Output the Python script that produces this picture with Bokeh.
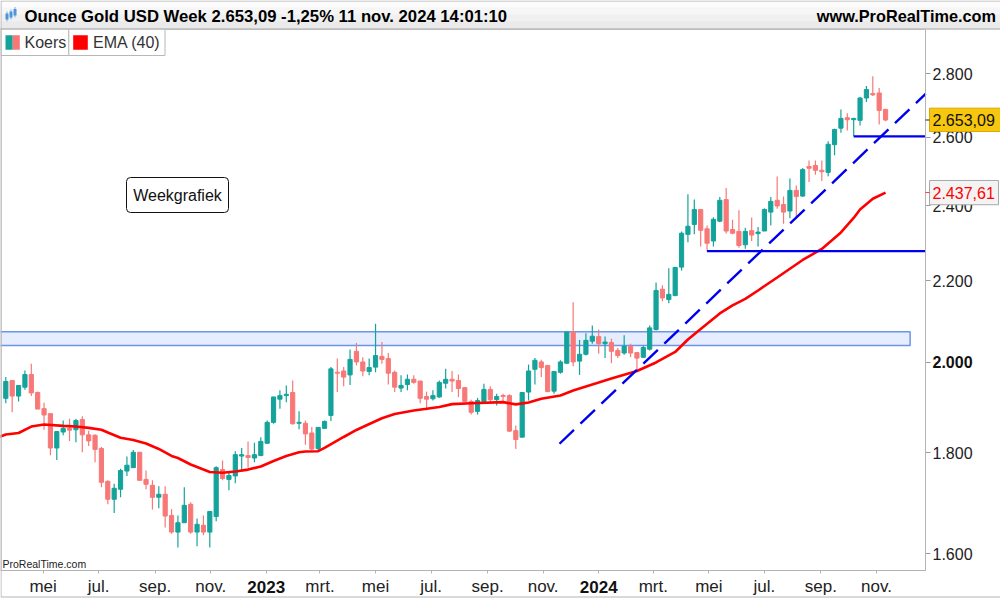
import pandas as pd
from bokeh.plotting import figure
from bokeh.models import (Range1d, FixedTicker, Label, BoxAnnotation, ColumnDataSource,
                          LogAxis, LinearAxis)
from bokeh.embed import file_html
from bokeh.resources import INLINE

# ---------------- data (weekly Ounce Gold USD) ----------------
START = pd.Timestamp("2022-03-21")   # Monday of the first weekly candle

opens = [1918, 1958, 1923, 1943, 1972, 1931, 1895, 1884, 1810, 1844,
         1852, 1849, 1871, 1838, 1837, 1809, 1741, 1705, 1725, 1762,
         1769, 1801, 1745, 1733, 1709, 1715, 1673, 1641, 1659, 1695,
         1641, 1654, 1641, 1671, 1765, 1745, 1752, 1793, 1794, 1789,
         1794, 1820, 1865, 1916, 1924, 1931, 1863, 1863, 1842, 1809,
         1852, 1880, 1977, 1980, 1971, 2026, 2001, 1979, 1989, 2014,
         2009, 1977, 1941, 1949, 1961, 1957, 1922, 1917, 1921, 1952,
         1961, 1958, 1942, 1911, 1889, 1911, 1938, 1915, 1924, 1924,
         1847, 1833, 1932, 1984, 2001, 1993, 1934, 1977, 1998, 2072,
         2003, 2019, 2050, 2061, 2044, 2047, 2028, 2022, 2038, 2023,
         2012, 2031, 2078, 2178, 2152, 2162, 2235, 2322, 2349, 2390,
         2337, 2304, 2358, 2418, 2335, 2330, 2294, 2332, 2324, 2331,
         2383, 2416, 2404, 2386, 2444, 2428, 2513, 2516, 2502, 2496,
         2578, 2628, 2660, 2654, 2652, 2722, 2736, 2738, 2686]
highs = [1966, 1958, 1947, 1981, 1997, 1933, 1908, 1884, 1846, 1869,
         1873, 1873, 1878, 1847, 1839, 1812, 1743, 1736, 1767, 1792,
         1806, 1801, 1763, 1743, 1731, 1731, 1686, 1673, 1729, 1699,
         1667, 1673, 1681, 1772, 1784, 1759, 1803, 1810, 1824, 1821,
         1833, 1869, 1921, 1936, 1947, 1958, 1889, 1869, 1855, 1854,
         1869, 1989, 2009, 1989, 2030, 2046, 2012, 2009, 2092, 2048,
         2022, 1981, 1970, 1972, 1970, 1957, 1933, 1936, 1958, 1985,
         1980, 1972, 1943, 1915, 1919, 1951, 1945, 1928, 1928, 1927,
         1858, 1932, 1995, 2010, 2006, 1993, 1979, 2005, 2072, 2145,
         2053, 2069, 2088, 2078, 2061, 2056, 2034, 2064, 2044, 2023,
         2039, 2088, 2195, 2188, 2232, 2236, 2330, 2433, 2418, 2390,
         2346, 2369, 2425, 2451, 2362, 2388, 2340, 2368, 2342, 2394,
         2425, 2484, 2427, 2478, 2458, 2509, 2531, 2531, 2531, 2588,
         2626, 2686, 2674, 2660, 2725, 2760, 2792, 2754, 2688]
lows = [1907, 1887, 1911, 1937, 1923, 1894, 1849, 1795, 1785, 1837,
        1825, 1822, 1801, 1814, 1780, 1729, 1695, 1678, 1709, 1752,
        1769, 1743, 1725, 1685, 1687, 1650, 1638, 1612, 1659, 1638,
        1614, 1635, 1612, 1662, 1743, 1723, 1737, 1763, 1769, 1780,
        1794, 1820, 1862, 1895, 1909, 1860, 1850, 1817, 1805, 1805,
        1851, 1868, 1932, 1945, 1948, 1993, 1968, 1970, 1977, 1997,
        1949, 1932, 1932, 1936, 1951, 1907, 1891, 1913, 1919, 1940,
        1932, 1921, 1909, 1882, 1882, 1909, 1910, 1902, 1909, 1844,
        1808, 1833, 1913, 1949, 1966, 1932, 1928, 1974, 1997, 1991,
        1971, 2016, 2044, 2020, 2010, 1998, 2010, 2018, 2012, 1981,
        2011, 2028, 2076, 2148, 2143, 2160, 2226, 2301, 2322, 2289,
        2276, 2289, 2355, 2324, 2322, 2286, 2283, 2304, 2289, 2331,
        2346, 2392, 2351, 2366, 2365, 2425, 2468, 2489, 2471, 2485,
        2546, 2614, 2621, 2603, 2636, 2709, 2728, 2639, 2649]
closes = [1956, 1923, 1947, 1972, 1930, 1894, 1881, 1810, 1845, 1852,
          1848, 1869, 1838, 1825, 1807, 1739, 1705, 1727, 1763, 1774,
          1801, 1743, 1735, 1709, 1715, 1672, 1641, 1659, 1693, 1641,
          1656, 1641, 1681, 1769, 1747, 1753, 1796, 1796, 1790, 1796,
          1824, 1865, 1921, 1924, 1927, 1862, 1865, 1840, 1808, 1854,
          1867, 1985, 1975, 1966, 2007, 2001, 1980, 1988, 2016, 2007,
          1975, 1943, 1947, 1961, 1954, 1918, 1916, 1924, 1954, 1961,
          1957, 1940, 1911, 1887, 1913, 1938, 1915, 1922, 1922, 1846,
          1828, 1931, 1980, 2005, 1988, 1933, 1979, 2001, 2072, 2001,
          2019, 2052, 2062, 2044, 2048, 2026, 2016, 2038, 2022, 2010,
          2035, 2082, 2175, 2156, 2165, 2234, 2325, 2344, 2390, 2333,
          2298, 2363, 2416, 2331, 2325, 2292, 2330, 2320, 2328, 2390,
          2413, 2400, 2383, 2444, 2427, 2504, 2508, 2502, 2498, 2579,
          2624, 2658, 2654, 2658, 2722, 2749, 2732, 2683, 2653.09]

# EMA(40): (week number, value)
ema_weeks = [-1, 0, 2, 4, 6, 9, 11, 13, 15, 16, 18, 20, 22, 24, 26, 27, 29, 32, 34, 36,
             38, 40, 42, 44, 46, 47, 49, 50, 53, 55, 56, 59, 61, 64, 66, 68, 70, 73, 78, 80,
             82, 84, 87, 89, 91, 93, 95, 99, 102, 105, 107, 109, 112, 114, 116, 118, 121, 125, 128, 131,
             133, 134, 136, 138]
ema_values = [1833.5, 1838.8, 1842, 1855.8, 1860.4, 1857.4, 1855.8, 1853, 1849, 1843,
              1831.8, 1827, 1819.6, 1808, 1793.3, 1789.1, 1775.6, 1760.1, 1758.5, 1761.2,
              1765, 1771.5, 1782.9, 1793.3, 1801.2, 1802.7, 1803.3, 1810.1, 1833.4, 1848.5,
              1854.8, 1874, 1883, 1891, 1894.7, 1898.7, 1905, 1907.1, 1909.4, 1904.4,
              1908.8, 1917, 1924.4, 1935.6, 1944.7, 1953.7, 1963, 1980, 1999.8, 2024.4,
              2054, 2079.4, 2117.4, 2137.3, 2153.5, 2174.9, 2208, 2253.6, 2282.7, 2327.1,
              2366.8, 2390.3, 2420.3, 2437.61]

zone_dates = ["2022-03-01", "2024-12-08"]
zone_prices = [2040, 2073]
support_start_weeks = [110, 133]
support_levels = [2277, 2603]
trend_dates = ["2023-11-19", "2024-12-25"]
trend_prices = [1819, 2735]

y_ticks = [1600, 1800, 2000, 2200, 2400, 2600, 2800]
y_tick_labels = ["1.600", "1.800", "2.000", "2.200", "2.400", "2.600", "2.800"]
month_ticks = ["2022-05-01", "2022-07-01", "2022-09-01", "2022-11-01", "2023-01-01",
               "2023-03-01", "2023-05-01", "2023-07-01", "2023-09-01", "2023-11-01",
               "2024-01-01", "2024-03-01", "2024-05-01", "2024-07-01", "2024-09-01",
               "2024-11-01"]
month_labels = ["mei", "jul.", "sep.", "nov.", "2023", "mrt.", "mei", "jul.", "sep.", "nov.",
                "2024", "mrt.", "mei", "jul.", "sep.", "nov."]
last_price = 2653.09
last_ema = 2437.61
title_text = "Ounce Gold USD Week 2.653,09 -1,25% 11 nov. 2024 14:01:10"

# ---------------- layout constants (chart panel inside the 1000x600 canvas) ----------------
X_LEFT, X_RIGHT = -5.82, 1092.22      # day numbers at canvas x = 0 and x = 1000
Y_BOTTOM, Y_TOP = 1515.2, 3049.7      # prices at canvas y = 600 and y = 0
PANEL_X_END = 1009.86                 # day number at the price-axis line (x = 925)
PANEL_Y_LOW, PANEL_Y_HIGH = 1569.2, 2948.5   # prices at the time-axis line and the panel top

def day(d):
    return float((pd.Timestamp(d) - START).days)

FONT = "Liberation Sans"
UP = "#14A39A"
DOWN = "#F87878"
H = 600.0

def sy(page_y):
    return H - page_y

# ---------------- figure ----------------
p = figure(width=1000, height=600, output_backend="svg", toolbar_location=None,
           y_axis_type="log", x_axis_location=None, y_axis_location=None,
           x_range=Range1d(X_LEFT, X_RIGHT), y_range=Range1d(Y_BOTTOM, Y_TOP))
p.min_border_left = p.min_border_right = p.min_border_top = p.min_border_bottom = 0
p.background_fill_color = "white"
p.border_fill_color = "white"
p.outline_line_color = None
p.grid.visible = False

# price axis (right)
yax = LogAxis(fixed_location=PANEL_X_END, bounds=(PANEL_Y_LOW, PANEL_Y_HIGH),
              ticker=FixedTicker(ticks=y_ticks))
yax.major_label_overrides = {t: (lab if t != 2000 else "") for t, lab in zip(y_ticks, y_tick_labels)}
yax.major_label_text_font = FONT
yax.major_label_text_font_size = "16px"
yax.major_label_text_color = "#222222"
yax.axis_line_color = "#B4B4B4"
yax.major_tick_line_color = "#9A9A9A"
yax.major_tick_out = 5
yax.major_tick_in = 0
yax.minor_tick_line_color = None
yax.major_label_standoff = 2
p.add_layout(yax, "right")

# time axis (below)
xt = [day(m) for m in month_ticks]
xax = LinearAxis(fixed_location=PANEL_Y_LOW, bounds=(X_LEFT, PANEL_X_END),
                 ticker=FixedTicker(ticks=xt))
xax.major_label_overrides = {t: (lab if not lab.isdigit() else "") for t, lab in zip(xt, month_labels)}
xax.major_label_text_font = FONT
xax.major_label_text_font_size = "17px"
xax.major_label_text_color = "#222222"
xax.axis_line_color = "#B4B4B4"
xax.major_tick_line_color = "#B4B4B4"
xax.major_tick_out = 3
xax.major_tick_in = 0
xax.minor_tick_line_color = None
xax.major_label_standoff = 4
p.add_layout(xax, "below")

# resistance zone
p.quad(left=[day(zone_dates[0])], right=[day(zone_dates[1])],
       bottom=[zone_prices[0]], top=[zone_prices[1]],
       fill_color="#E6EDFE", line_color="#6B95EA", line_width=1.5)

# candles
n = len(closes)
xs = [7.0 * i for i in range(n)]
colors = [UP if c >= o else DOWN for o, c in zip(opens, closes)]
src = ColumnDataSource(dict(x=xs, o=opens, h=highs, l=lows, c=closes,
                            top=[max(o, c) for o, c in zip(opens, closes)],
                            bot=[min(o, c) for o, c in zip(opens, closes)],
                            col=colors))
p.segment(x0="x", x1="x", y0="l", y1="h", color="col", line_width=1.2, source=src)
p.vbar(x="x", width=4.6, top="top", bottom="bot", fill_color="col", line_color="col",
       line_width=1, source=src)

# EMA 40
p.line(x=[7.0 * w for w in ema_weeks], y=ema_values, color="#FF0000", line_width=2.6)

# support lines and trend line
for w, lv in zip(support_start_weeks, support_levels):
    p.segment(x0=[7.0 * w], x1=[PANEL_X_END], y0=[lv], y1=[lv], color="#0000F0", line_width=2.4)
p.line(x=[day(d) for d in trend_dates], y=trend_prices, color="#0000F0", line_width=2.4,
       line_dash="20 9")

# ---------------- annotations ----------------
def box(l, r, top_page, bot_page, fill, line=None, lw=1, radius=0):
    b = BoxAnnotation(left=l, right=r, top=sy(top_page), bottom=sy(bot_page),
                      left_units="screen", right_units="screen", top_units="screen",
                      bottom_units="screen", fill_color=fill, fill_alpha=1 if fill else 0,
                      line_color=line, line_alpha=1 if line else 0, line_width=lw,
                      border_radius=radius, level="annotation")
    p.add_layout(b)

def label(x, y, text, size, color="#222222", style="normal", align="left",
          xu="screen", yu="screen"):
    p.add_layout(Label(x=x, y=y, x_units=xu, y_units=yu, text=text, text_font=FONT,
                       text_font_size=size, text_color=color, text_font_style=style,
                       text_align=align, text_baseline="middle", level="annotation"))

# chart panel border
box(0.5, 925, 29, 570, None, "#B4B4B4", 1)

# header bar
bands = ["#FCFCFC", "#F6F6F6", "#F0F0F0", "#EAEAEA"]
for k, col in enumerate(bands):
    box(-2, 1002, 7 * k, 7 * (k + 1) + 0.5, col)
box(-2, 1002, 28.5, 28.5, None, "#BDBDBD", 1)
label(24, sy(15.5), title_text, "16.7px", "#000000", "bold")
label(995.5, sy(15.5), "www.ProRealTime.com", "16.3px", "#000000", "bold", "right")
# small header icon (three tiny candles)
for (cx, t, b_) in [(6.5, 13, 19), (10.5, 11, 17), (14.5, 8.5, 15)]:
    box(cx - 0.5, cx + 0.5, t - 2, b_ + 2, "#7FB2E5")
    box(cx - 1.5, cx + 1.5, t, b_, "#4F93D8")

# legend boxes
box(0.5, 68.3, 28.7, 55, "white", "#B8B8B8", 1)
box(68.3, 164.5, 28.7, 55, "white", "#B8B8B8", 1)
box(5, 12.2, 34.7, 49.3, UP)
box(12.2, 19.3, 34.7, 49.3, DOWN)
box(72.7, 87.3, 34.7, 49.3, "#FF0000")
label(24, sy(42), "Koers", "16px", "#333333")
label(92.5, sy(42), "EMA (40)", "16px", "#333333")

# chart name box
box(126, 228, 177, 212, "white", "#111111", 1, 4)
label(177, sy(194.5), "Weekgrafiek", "16px", "#111111", align="center")

# watermark
label(2, sy(563), "ProRealTime.com", "10.5px", "#222222")

# bold axis labels
for t, lab in zip(xt, month_labels):
    if lab.isdigit():
        label(t, sy(586.5), lab, "17px", "#111111", "bold", "center", xu="data")
label(932, 2000, "2.000", "16px", "#111111", "bold", yu="data")

# price badges on the right axis (with their small tick marks)
p.add_layout(BoxAnnotation(left=929, right=1000, bottom=2617.7, top=2690,
                           left_units="screen", right_units="screen",
                           fill_color="#F7C60F", fill_alpha=1, line_color="#D8A900",
                           line_alpha=1, line_width=1, level="annotation"))
p.add_layout(BoxAnnotation(left=925, right=929, bottom=last_price * 0.9995, top=last_price * 1.0005,
                           left_units="screen", right_units="screen",
                           fill_color="#222222", fill_alpha=1, line_alpha=0, level="annotation"))
label(932, last_price, "2.653,09", "16px", "#111111", yu="data")
p.add_layout(BoxAnnotation(left=929, right=998, bottom=2403.5, top=2472.5,
                           left_units="screen", right_units="screen",
                           fill_color="#F3F3F3", fill_alpha=1, line_color="#A8A8A8",
                           line_alpha=1, line_width=1, level="annotation"))
p.add_layout(BoxAnnotation(left=925, right=929, bottom=last_ema * 0.9995, top=last_ema * 1.0005,
                           left_units="screen", right_units="screen",
                           fill_color="#FF0000", fill_alpha=1, line_alpha=0, level="annotation"))
label(932, last_ema, "2.437,61", "16px", "#FF0000", yu="data")

# outer border
box(0.5, 1001, 0.5, 596.5, None, "#B4B4B4", 1)

open("out.html", "w").write(file_html(p, INLINE))
